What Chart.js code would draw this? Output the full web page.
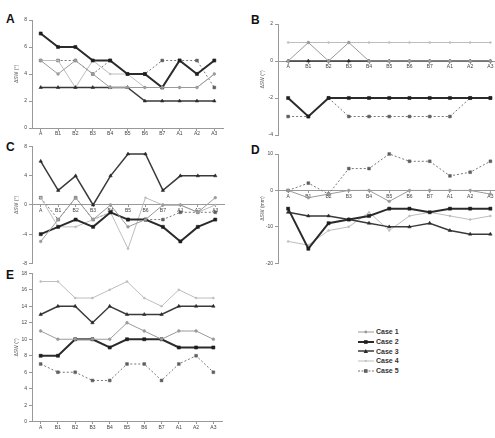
<!DOCTYPE html>
<html>
<head>
<meta charset="utf-8">
<script src="https://cdn.jsdelivr.net/npm/chart.js@4"></script>
<style>
  html, body { margin: 0; padding: 0; background: #fff; overflow: hidden; width: 495px; height: 438px; }
  .panel { position: absolute; }
  .tag { position: absolute; font: bold 12px 'Liberation Sans', Arial, sans-serif; color: #111; }
  #legend { position: absolute; left: 358px; top: 327px; font: bold 7px 'Liberation Sans', Arial, sans-serif; color: #333; }
  .row { height: 9.7px; display: flex; align-items: center; }
  .row svg { margin-right: 2px; }
</style>
</head>
<body>

<div class="tag" style="left:6px;top:12px">A</div>
<div class="tag" style="left:251px;top:13px">B</div>
<div class="tag" style="left:6px;top:140px">C</div>
<div class="tag" style="left:251px;top:143px">D</div>
<div class="tag" style="left:6px;top:268px">E</div>

<canvas id="chartA" class="panel" width="245" height="150" style="left:0;top:0"></canvas>
<canvas id="chartB" class="panel" width="260" height="150" style="left:245px;top:0"></canvas>
<canvas id="chartC" class="panel" width="245" height="150" style="left:0;top:130px"></canvas>
<canvas id="chartD" class="panel" width="260" height="150" style="left:245px;top:130px"></canvas>
<canvas id="chartE" class="panel" width="245" height="183" style="left:0;top:255px"></canvas>

<div id="legend"></div>

<script>
// Data
const categories = ['A', 'B1', 'B2', 'B3', 'B4', 'B5', 'B6', 'B7', 'A1', 'A2', 'A3'];
const caseNames = ['Case 1', 'Case 2', 'Case 3', 'Case 4', 'Case 5'];

// one row per case (Case 1 .. Case 5)
const panelA = [
    [5, 4, 5, 4, 3, 3, 3, 3, 3, 3, 4],
    [7, 6, 6, 5, 5, 4, 4, 3, 5, 4, 5],
    [3, 3, 3, 3, 3, 3, 2, 2, 2, 2, 2],
    [5, 5, 3, 5, 4, 4, 3, 3, 3, 3, 4],
    [5, 5, 5, 4, 5, 4, 4, 5, 5, 5, 3]
];
const panelB = [
    [0, 1, 0, 1, 0, 0, 0, 0, 0, 0, 0],
    [-2, -3, -2, -2, -2, -2, -2, -2, -2, -2, -2],
    [0, 0, 0, 0, 0, 0, 0, 0, 0, 0, 0],
    [1, 1, 1, 1, 1, 1, 1, 1, 1, 1, 1],
    [-3, -3, -2, -3, -3, -3, -3, -3, -3, -2, -2]
];
const panelC = [
    [-5, -2, 1, -2, 0, -3, -2, 0, 0, -1, 1],
    [-4, -3, -2, -3, -1, -2, -2, -3, -5, -3, -2],
    [6, 2, 4, 0, 4, 7, 7, 2, 4, 4, 4],
    [1, -3, -3, -2, -1, -6, 1, 0, 0, -1, 0],
    [1, -2, 1, -2, -1, -2, -2, -2, -1, -1, -1]
];
const panelD = [
    [0, -2, -1, 0, 0, -3, 0, 0, 0, 0, -1],
    [-5, -16, -9, -8, -7, -5, -5, -6, -5, -5, -5],
    [-6, -7, -7, -8, -9, -10, -10, -9, -11, -12, -12],
    [-14, -15, -11, -10, -6, -11, -7, -6, -7, -8, -7],
    [0, 2, -1, 6, 6, 10, 8, 8, 4, 5, 8]
];
const panelE = [
    [11, 10, 10, 10, 10, 12, 11, 10, 11, 11, 10],
    [8, 8, 10, 10, 9, 10, 10, 10, 9, 9, 9],
    [13, 14, 14, 12, 14, 13, 13, 13, 14, 14, 14],
    [17, 17, 15, 15, 16, 17, 15, 14, 16, 15, 15],
    [7, 6, 6, 5, 5, 7, 7, 5, 7, 8, 6]
];

// Styles per case
const fontFamily = "'Liberation Sans', Arial, sans-serif";
const caseStyles = [
    { borderColor: '#9a9a9a', borderWidth: 1, pointStyle: 'circle', pointRadius: 1.4, pointBackgroundColor: '#9a9a9a', borderDash: [] },
    { borderColor: '#2b2b2b', borderWidth: 2, pointStyle: 'rect', pointRadius: 2.2, pointBackgroundColor: '#1e1e1e', borderDash: [] },
    { borderColor: '#3a3a3a', borderWidth: 1.5, pointStyle: 'triangle', pointRadius: 2, pointBackgroundColor: '#2a2a2a', borderDash: [] },
    { borderColor: '#bdbdbd', borderWidth: 1, pointStyle: 'circle', pointRadius: 1, pointBackgroundColor: '#bdbdbd', borderDash: [] },
    { borderColor: '#777777', borderWidth: 1, pointStyle: 'rect', pointRadius: 2, pointBackgroundColor: '#5e5e5e', borderDash: [2, 2] }
];

function makeChart(id, rows, yMin, yMax, step, yTitle, pad) {
    const datasets = rows.map((values, i) => ({
        label: caseNames[i],
        data: values,
        borderColor: caseStyles[i].borderColor,
        borderWidth: caseStyles[i].borderWidth,
        borderDash: caseStyles[i].borderDash,
        pointStyle: caseStyles[i].pointStyle,
        pointRadius: caseStyles[i].pointRadius,
        pointBackgroundColor: caseStyles[i].pointBackgroundColor,
        pointBorderColor: caseStyles[i].pointBackgroundColor,
        pointBorderWidth: 0.5,
        tension: 0,
        fill: false,
        clip: false
    }));

    return new Chart(document.getElementById(id), {
        type: 'line',
        data: { labels: categories, datasets: datasets },
        options: {
            responsive: false,
            animation: false,
            layout: { padding: pad },
            plugins: { legend: { display: false }, tooltip: { enabled: false } },
            scales: {
                x: {
                    position: { y: 0 },
                    offset: true,
                    grid: { drawOnChartArea: false, offset: false, tickLength: 2, color: '#999' },
                    border: { color: '#999', width: 1 },
                    ticks: { font: { size: 5, family: fontFamily }, color: '#444', padding: 1, maxRotation: 0, autoSkip: false }
                },
                y: {
                    min: yMin,
                    max: yMax,
                    ticks: { stepSize: step, font: { size: 5, family: fontFamily }, color: '#444', padding: 2 },
                    grid: { drawOnChartArea: false, tickLength: 3, color: '#999' },
                    border: { color: '#999', width: 1 },
                    title: { display: true, text: yTitle, font: { size: 5, family: fontFamily }, color: '#555', padding: 0 },
                    afterFit: (scale) => { scale.width = 18; }
                }
            }
        }
    });
}

makeChart('chartA', panelA, 0, 8, 2, 'ΔSW (°)', { left: 14, top: 20, bottom: 22, right: 22 });
makeChart('chartB', panelB, -4, 2, 2, 'ΔSW (°)', { left: 15, top: 24, bottom: 15, right: 3 });
makeChart('chartC', panelC, -8, 8, 4, 'ΔSW (°)', { left: 14, top: 16.7, bottom: 16.7, right: 21 });
makeChart('chartD', panelD, -20, 10, 10, 'ΔSW (mm)', { left: 15, top: 24, bottom: 16.7, right: 3 });
makeChart('chartE', panelE, 0, 18, 2, 'ΔSW (°)', { left: 14, top: 18.3, bottom: 16.3, right: 23 });

// HTML legend
const legend = document.getElementById('legend');
caseNames.forEach((name, i) => {
    const s = caseStyles[i];
    const dash = s.borderDash.length ? 'stroke-dasharray="2,1.5"' : '';
    let marker = '';
    if (s.pointStyle === 'rect') {
        marker = `<rect x="6" y="1.2" width="3.6" height="3.6" fill="${s.pointBackgroundColor}"/>`;
    } else if (s.pointStyle === 'triangle') {
        marker = `<polygon points="7.8,1 10,5 5.6,5" fill="${s.pointBackgroundColor}"/>`;
    } else {
        marker = `<circle cx="7.8" cy="3" r="${s.pointRadius}" fill="${s.pointBackgroundColor}"/>`;
    }
    const row = document.createElement('div');
    row.className = 'row';
    row.innerHTML = `<svg width="16" height="6"><line x1="0" y1="3" x2="16" y2="3" stroke="${s.borderColor}" stroke-width="${s.borderWidth}" ${dash}/>${marker}</svg><span>${name}</span>`;
    legend.appendChild(row);
});
</script>
</body>
</html>
